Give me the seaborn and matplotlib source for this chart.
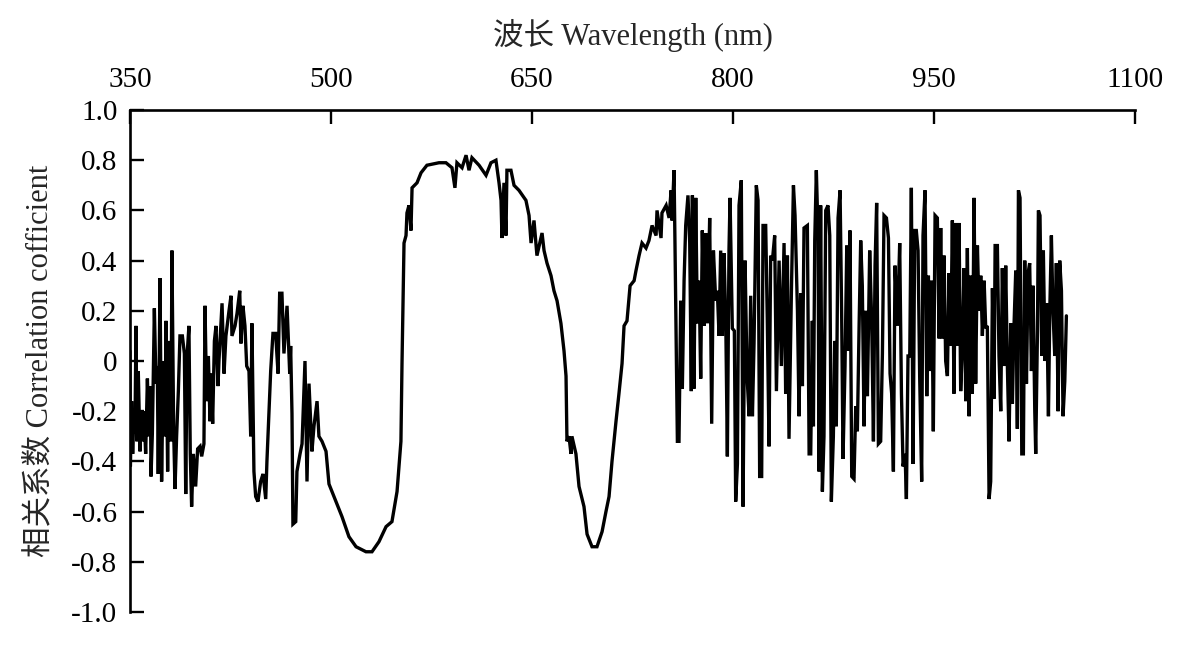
import numpy as np
import pandas as pd
import matplotlib
matplotlib.use('Agg')
import matplotlib.pyplot as plt
import seaborn as sns

# wavelength (nm) and correlation coefficient
wl_blue = [350.0, 350.3, 351.2, 352.0, 353.0, 353.7, 354.5, 355.2, 356.2, 357.5,
           358.2, 359.2, 360.5, 361.7, 363.0, 364.2, 365.2, 365.7, 366.7, 368.2,
           369.4, 370.4, 371.1, 372.4, 373.6, 374.9, 376.1, 376.9, 378.1, 379.1,
           380.6, 381.3, 382.6, 383.6, 384.8, 386.1, 387.3, 389.1, 390.6, 391.6,
           392.6, 394.0, 395.0, 396.0, 397.3, 399.0, 400.5, 402.3, 403.5, 405.2,
           406.0, 407.2, 408.5, 409.7, 410.5, 411.7, 413.0, 414.2, 415.7, 416.4,
           418.7, 420.2, 421.6, 423.9, 425.4, 426.1, 428.4, 429.9, 431.9, 432.8,
           434.3, 435.8, 437.1, 438.8, 440.1, 441.0, 442.5, 443.8, 445.5, 447.5,
           449.3, 451.3, 452.2, 455.0, 456.7, 458.7, 460.5, 461.7, 463.4, 464.9,
           467.2, 469.2, 469.9, 470.9, 471.6, 473.7, 474.6, 476.9, 478.4, 480.6,
           482.1, 483.6, 485.8, 487.3, 489.6, 491.0, 493.3, 496.3]
r_blue = [0.04, -0.42, -0.16, -0.37, -0.20, -0.29, 0.14, -0.32, -0.04, -0.36,
          -0.20, -0.32, -0.20, -0.37, -0.07, -0.30, -0.10, -0.46, -0.29, 0.21,
          -0.09, -0.02, -0.45, 0.33, -0.48, 0.00, -0.30, 0.16, -0.44, 0.08,
          -0.32, 0.44, -0.28, -0.51, -0.30, -0.12, 0.10, 0.10, 0.03, -0.53,
          0.02, 0.14, -0.37, -0.58, -0.37, -0.50, -0.35, -0.34, -0.38, -0.33,
          0.22, -0.16, 0.02, -0.24, -0.05, -0.25, 0.08, 0.14, -0.10, 0.00,
          0.23, -0.05, 0.10, 0.20, 0.26, 0.10, 0.14, 0.19, 0.28, 0.07,
          0.22, 0.14, -0.02, -0.04, -0.30, 0.15, -0.44, -0.54, -0.56, -0.48,
          -0.45, -0.55, -0.40, -0.04, 0.11, 0.11, -0.05, 0.27, 0.27, 0.03,
          0.22, -0.05, 0.06, -0.21, -0.65, -0.64, -0.44, -0.37, -0.33, 0.00,
          -0.48, -0.09, -0.36, -0.26, -0.16, -0.30, -0.32, -0.36]

wl_visible = [498.5, 503.7, 508.2, 513.4, 518.7, 526.1, 530.6, 535.8, 541.1, 545.5,
              549.3, 552.2, 553.0, 554.5, 556.0, 556.7, 558.2, 559.7, 560.5, 564.2,
              567.2, 571.6, 580.6, 585.8, 590.3, 592.5, 594.0, 597.8, 600.8, 603.0,
              605.2, 610.5, 615.7, 619.4, 623.1, 625.4, 626.9, 627.6, 629.1, 630.6,
              631.3, 634.3, 636.6, 640.3, 645.5, 647.8, 649.3, 651.5, 653.7, 657.5,
              659.0, 661.2, 664.2, 666.4, 668.7, 671.6, 673.9, 675.4, 676.1, 677.6,
              679.1, 679.8, 682.8, 685.1, 688.8, 691.1, 694.8, 698.5, 702.3, 705.2,
              707.5, 709.7, 712.7, 714.9, 717.2, 718.7, 720.9, 723.2, 726.2, 727.6,
              729.9, 732.1, 735.1, 737.3, 739.6, 742.6, 743.3, 746.3, 747.0, 750.1,
              752.3, 753.8, 754.5, 756.0, 756.7]
r_visible = [-0.49, -0.56, -0.62, -0.70, -0.74, -0.76, -0.76, -0.72, -0.66, -0.64,
             -0.52, -0.32, -0.01, 0.47, 0.50, 0.59, 0.62, 0.52, 0.69, 0.71,
             0.75, 0.78, 0.79, 0.79, 0.77, 0.69, 0.79, 0.77, 0.82, 0.76,
             0.81, 0.78, 0.74, 0.79, 0.80, 0.71, 0.64, 0.49, 0.71, 0.50,
             0.76, 0.76, 0.70, 0.68, 0.64, 0.58, 0.47, 0.56, 0.42, 0.51,
             0.44, 0.39, 0.34, 0.28, 0.24, 0.15, 0.04, -0.06, -0.32, -0.30,
             -0.37, -0.30, -0.37, -0.50, -0.58, -0.69, -0.74, -0.74, -0.68, -0.60,
             -0.54, -0.40, -0.24, -0.13, -0.01, 0.14, 0.16, 0.30, 0.32, 0.36,
             0.42, 0.47, 0.45, 0.48, 0.54, 0.50, 0.60, 0.49, 0.59, 0.62,
             0.57, 0.68, 0.56, 0.76, 0.47]

wl_nir = [758.5, 759.7, 761.0, 762.2, 763.5, 764.7, 766.4, 767.7, 768.9, 769.7,
          770.9, 772.2, 773.4, 774.7, 775.9, 777.1, 778.4, 779.6, 780.9, 782.6,
          784.1, 785.4, 787.1, 788.3, 789.6, 790.8, 792.1, 793.3, 794.6, 795.8,
          797.0, 797.8, 799.5, 801.0, 802.0, 803.3, 804.5, 806.2, 807.5, 809.0,
          810.5, 812.0, 813.2, 814.5, 815.7, 817.4, 818.7, 819.9, 821.4, 822.4,
          824.4, 825.6, 826.9, 828.1, 829.4, 831.1, 832.4, 834.4, 836.1, 838.1,
          839.3, 840.6, 841.8, 843.6, 845.1, 846.3, 848.1, 849.3, 850.5, 851.8,
          853.0, 855.5, 856.8, 858.0, 859.2, 860.0, 861.0, 862.2, 863.5, 864.2,
          865.4, 866.7, 867.9, 869.2, 870.9, 872.2, 873.4, 874.9, 875.9, 877.1,
          878.4, 879.9, 881.1, 882.1, 883.6, 884.9, 886.1, 887.3, 888.6, 890.3,
          891.6, 892.8, 894.1, 895.3, 896.5, 897.8, 899.0, 900.3, 902.0, 903.5,
          904.8, 906.0, 907.2, 908.5, 910.2, 911.5, 912.7, 914.5, 916.0, 917.2,
          918.4, 919.7, 920.9, 922.7, 924.4, 925.7, 926.9, 928.4, 929.4, 930.6,
          931.9, 933.1, 934.4, 935.6, 936.8, 938.1, 939.3, 940.8, 941.8, 943.3,
          944.6, 945.8, 947.0, 948.3, 949.5, 950.8, 952.5, 953.8, 955.0, 956.2,
          957.5, 958.7, 960.0, 961.2, 962.5, 963.7, 964.9, 966.2, 967.4, 968.7,
          969.9, 971.2, 972.4, 973.7, 974.9, 976.2, 977.4, 978.6, 979.9, 981.1,
          982.4, 983.6, 984.9, 986.1, 987.4, 988.6, 989.8, 991.1, 992.3, 993.6,
          994.8, 995.6, 997.3, 998.5, 999.8, 1001.0, 1002.3, 1003.5, 1004.8, 1006.0,
          1007.3, 1008.5, 1009.7, 1011.0, 1012.2, 1013.0, 1014.2, 1015.5, 1016.7, 1017.7,
          1019.0, 1020.2, 1021.4, 1022.7, 1023.9, 1025.2, 1025.9, 1027.2, 1027.9, 1029.1,
          1030.4, 1031.6, 1032.9, 1034.1, 1035.4, 1036.4, 1037.6, 1038.8, 1040.1, 1041.3,
          1042.6, 1043.8, 1045.1, 1046.3, 1047.6, 1048.8]
r_nir = [-0.32, -0.32, 0.24, -0.11, 0.32, 0.54, 0.66, 0.47, -0.12, 0.66,
         -0.11, 0.65, 0.15, 0.32, -0.07, 0.52, 0.14, 0.51, 0.15, 0.57,
         -0.25, 0.44, 0.24, 0.28, 0.10, 0.44, 0.10, 0.43, 0.16, -0.38,
         0.44, 0.65, 0.13, 0.12, -0.56, -0.41, 0.62, 0.72, -0.58, 0.40,
         -0.06, -0.22, 0.26, -0.22, 0.07, 0.70, 0.64, -0.46, -0.46, 0.54,
         0.54, 0.16, -0.34, 0.42, 0.40, 0.50, -0.12, 0.40, -0.02, 0.47,
         -0.13, 0.42, -0.31, 0.28, 0.70, 0.58, 0.20, -0.22, 0.27, -0.10,
         0.53, 0.54, -0.37, -0.37, 0.16, -0.26, 0.48, 0.76, 0.50, -0.44,
         0.62, -0.52, -0.30, 0.60, 0.62, 0.50, -0.56, -0.30, 0.08, -0.26,
         0.57, 0.68, 0.18, -0.39, -0.02, 0.46, 0.04, 0.52, -0.46, -0.47,
         -0.18, -0.28, 0.14, 0.48, 0.30, -0.26, 0.20, -0.14, 0.44, 0.16,
         -0.32, 0.38, 0.63, -0.33, -0.32, 0.03, 0.58, 0.57, 0.49, -0.05,
         -0.13, -0.44, 0.38, 0.14, 0.47, -0.13, -0.42, -0.37, -0.55, 0.02,
         0.02, 0.69, -0.41, 0.52, 0.52, 0.44, -0.06, -0.48, 0.50, 0.68,
         -0.14, 0.34, -0.04, 0.32, -0.28, 0.58, 0.57, 0.09, 0.53, 0.09,
         0.42, 0.00, -0.06, 0.35, 0.06, 0.56, -0.13, 0.55, 0.06, 0.55,
         -0.12, 0.06, 0.37, -0.16, 0.45, -0.22, 0.34, -0.13, 0.65, -0.09,
         0.46, 0.20, 0.34, 0.10, 0.32, 0.13, 0.14, -0.55, -0.48, 0.29,
         -0.15, 0.46, 0.46, 0.02, -0.20, 0.37, -0.02, 0.38, -0.03, -0.32,
         0.15, -0.17, 0.14, 0.36, -0.27, 0.68, 0.65, -0.37, -0.37, 0.40,
         -0.09, 0.35, 0.39, -0.04, 0.30, -0.20, -0.37, 0.12, 0.60, 0.58,
         0.02, 0.44, 0.00, 0.23, -0.22, 0.20, 0.50, 0.20, 0.02, 0.39,
         -0.20, 0.40, 0.28, -0.22, -0.08, 0.18]

x_ticks = [350, 500, 650, 800, 950, 1100]
y_ticks = [1.0, 0.8, 0.6, 0.4, 0.2, 0.0, -0.2, -0.4, -0.6, -0.8, -1.0]
y_tick_labels = ['1.0', '0.8', '0.6', '0.4', '0.2', '0', '-0.2', '-0.4', '-0.6', '-0.8', '-1.0']

df = pd.DataFrame({
    'wavelength': wl_blue + wl_visible + wl_nir,
    'r': r_blue + r_visible + r_nir,
})

sns.set_style('ticks')
plt.rcParams['font.family'] = ['Liberation Serif', 'Noto Sans CJK SC']
plt.rcParams['axes.unicode_minus'] = False

fig = plt.figure(figsize=(11.87, 6.53), dpi=100)
ax = fig.add_axes([0.1095, 0.0628, 0.8467, 0.7687])

sns.lineplot(data=df, x='wavelength', y='r', color='black',
             estimator=None, sort=False, ax=ax)
for line in ax.lines:
    line.set_linewidth(2.4)
    line.set_solid_joinstyle('miter')

ax.set_xlim(350, 1100)
ax.set_ylim(-1.0, 1.0)
ax.set_xticks(x_ticks)
ax.set_yticks(y_ticks)
ax.set_yticklabels(y_tick_labels)

ax.xaxis.tick_top()
ax.xaxis.set_label_position('top')
for side in ['right', 'bottom']:
    ax.spines[side].set_visible(False)
for side in ['left', 'top']:
    ax.spines[side].set_linewidth(1.9)
    ax.spines[side].set_color('black')

ax.tick_params(axis='both', direction='in', length=10, width=1.7,
               labelsize=21, colors='black')
ax.tick_params(axis='x', pad=12)
ax.tick_params(axis='y', pad=9)

ax.set_xlabel('波长 Wavelength (nm)', fontsize=22, labelpad=16)
ax.set_ylabel('相关系数 Correlation cofficient', fontsize=22, labelpad=12)

fig.savefig('out.png', dpi=100)
